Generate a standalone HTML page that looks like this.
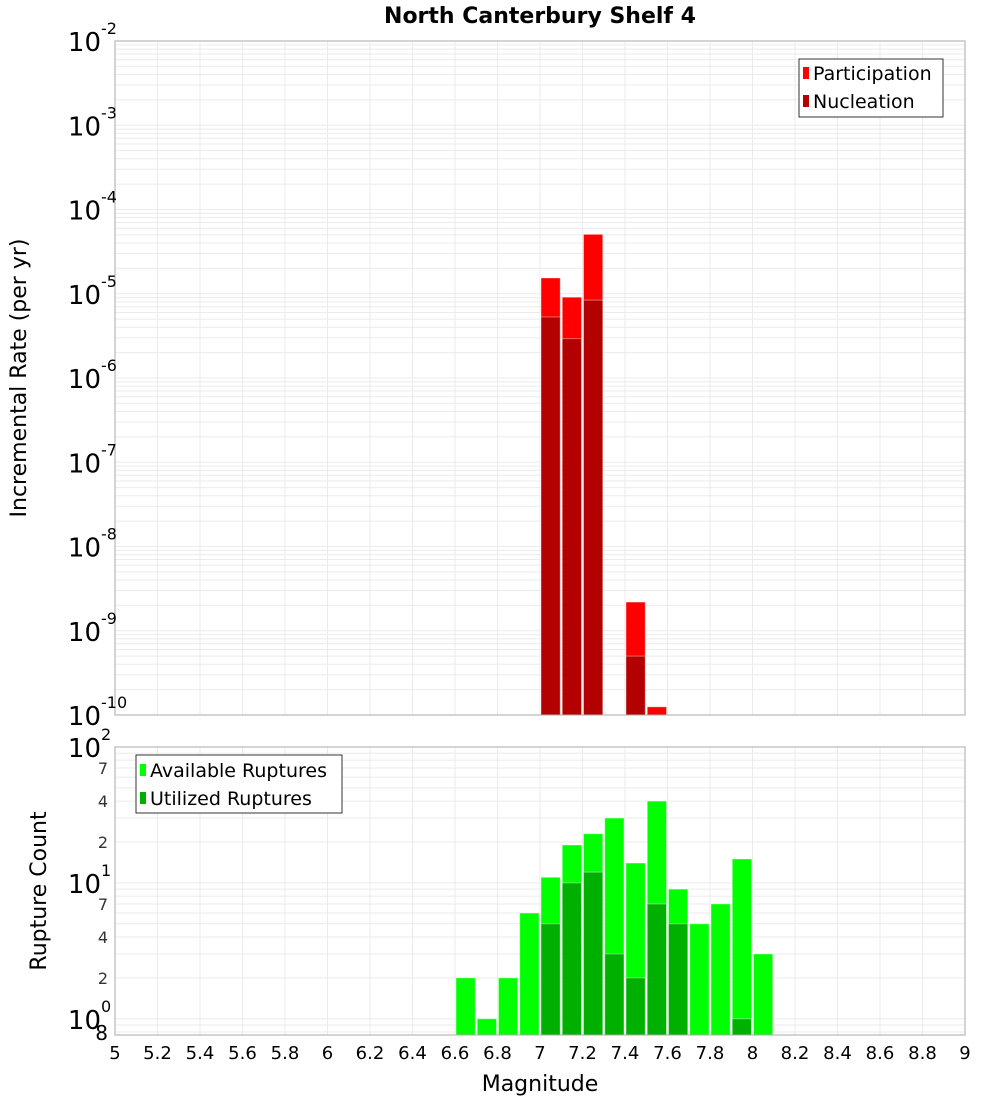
<!DOCTYPE html>
<html><head><meta charset="utf-8"><style>
body{margin:0;background:#fff;}
svg text{font-family:"DejaVu Sans","Liberation Sans",sans-serif;}
</style></head><body>
<svg id="chart" width="1000" height="1100" xmlns="http://www.w3.org/2000/svg">
<text x="540" y="23" text-anchor="middle" font-size="22" font-weight="bold">North Canterbury Shelf 4</text>
<g id="gtop"></g><g id="gbot"></g>
<text transform="translate(26,378) rotate(-90)" text-anchor="middle" font-size="22">Incremental Rate (per yr)</text>
<text transform="translate(46,891) rotate(-90)" text-anchor="middle" font-size="22">Rupture Count</text>
<text x="540" y="1091" text-anchor="middle" font-size="22">Magnitude</text>
<g id="legends">
<g>
<rect x="799" y="59" width="144" height="58" fill="#fff" stroke="#333"/>
<rect x="803" y="67" width="6" height="12" fill="#ff0000"/>
<text x="813" y="80" font-size="19">Participation</text>
<rect x="803" y="95" width="6" height="12" fill="#b30000"/>
<text x="813" y="108" font-size="19">Nucleation</text>
</g>
<g>
<rect x="136" y="755" width="206" height="58" fill="#fff" stroke="#333"/>
<rect x="140" y="764" width="6" height="12" fill="#00ff00"/>
<text x="150" y="777" font-size="19">Available Ruptures</text>
<rect x="140" y="792" width="6" height="12" fill="#00b000"/>
<text x="150" y="805" font-size="19">Utilized Ruptures</text>
</g>
</g>
</svg>
<script>
const binCenters=[6.65,6.75,6.85,6.95,7.05,7.15,7.25,7.35,7.45,7.55,7.65,7.75,7.85,7.95,8.05];
const participation=[0,0,0,0,1.54e-5,9.1e-6,5.07e-5,0,2.19e-9,1.25e-10,0,0,0,0,0];
const nucleation=[0,0,0,0,5.3e-6,2.93e-6,8.4e-6,0,5.0e-10,0,0,0,0,0,0];
const available=[2,1,2,6,11,19,23,30,14,40,9,5,7,15,3];
const utilized=[0,0,0,0,5,10,12,3,2,7,5,0,0,1,0];
const xTicks=[5,5.2,5.4,5.6,5.8,6,6.2,6.4,6.6,6.8,7,7.2,7.4,7.6,7.8,8,8.2,8.4,8.6,8.8,9];
const topExps=[-2,-3,-4,-5,-6,-7,-8,-9,-10];
const botMinor=[2,4,7,20,40,70];

const NS="http://www.w3.org/2000/svg";
const L=115,R=965;
const xs=m=>L+(m-5)/4*(R-L);
const T0=41,T1=715, yT=v=>T1-(Math.log10(v)+10)/8*(T1-T0);
const B0=747,B1=1035, bMin=Math.log10(0.76), yB=v=>B1-(Math.log10(v)-bMin)/(2-bMin)*(B1-B0);
function mk(parent,tag,attrs){const e=document.createElementNS(NS,tag);for(const k in attrs)e.setAttribute(k,attrs[k]);parent.appendChild(e);return e;}
const gTop=document.getElementById('gtop'), gBot=document.getElementById('gbot');
const svgEl=document.getElementById('chart');
function grid(g,y0,y1,hLines){
  hLines.forEach(y=>{const l=mk(g,'line',{x1:L,x2:R,y1:y,y2:y,stroke:'#ebebeb'});
    
    });
  xTicks.forEach(t=>{const l=mk(g,'line',{x1:xs(t),x2:xs(t),y1:y0,y2:y1,stroke:'#ebebeb'});
    
    });
}
const th=[];for(let e=-10;e<-2;e++)for(let k=1;k<10;k++)th.push(yT(k*Math.pow(10,e)));th.push(yT(1e-2));
grid(gTop,T0,T1,th);
const bh=[];[0.8,0.9].forEach(v=>bh.push(yB(v)));for(let e=0;e<2;e++)for(let k=1;k<10;k++)bh.push(yB(k*Math.pow(10,e)));bh.push(yB(100));
grid(gBot,B0,B1,bh);
function bar(g,c,v,base,yf,col,name){if(v<=0)return;const y=yf(v);
  const r=mk(g,'rect',{x:xs(c-0.05)+1,y:y,width:xs(c+0.05)-xs(c-0.05)-2,height:base-y,fill:col,stroke:'#ffffff','stroke-opacity':0.4});
  
  }
binCenters.forEach((c,i)=>{bar(gTop,c,participation[i],T1,yT,'#ff0000','participation-bar');bar(gTop,c,nucleation[i],T1,yT,'#b30000','nucleation-bar');
  bar(gBot,c,available[i],B1,yB,'#00ff00','available-bar');bar(gBot,c,utilized[i],B1,yB,'#00b000','utilized-bar');});
[[T0,T1],[B0,B1]].forEach(([a,b])=>{const r=mk(svgEl,'rect',{x:L,y:a,width:R-L,height:b-a,fill:'none',stroke:'#aaa'});
  
  });
svgEl.appendChild(document.getElementById('legends'));
function lab(px,py,base,exp,name){const t=mk(svgEl,'text',{x:px,y:py,'font-size':26,'text-anchor':'end'});
 
 
 t.textContent=base;
 const s=mk(svgEl,'text',{x:px,y:py-17,'font-size':16});
 
 
 s.textContent=exp;}
topExps.forEach(e=>lab(101,yT(Math.pow(10,e))+10,'10',String(e),'top-y-tick-label'));
[2,1,0].forEach(e=>lab(101,yB(Math.pow(10,e))+10,'10',String(e),'bottom-y-tick-label'));
botMinor.forEach(v=>{const t=mk(svgEl,'text',{x:108,y:yB(v)+6,'font-size':16,'text-anchor':'end',fill:'#333'});
  
  
  t.textContent=String(v>=10?v/10:v);});
{const t=mk(svgEl,'text',{x:108,y:yB(0.8)+8,'font-size':20,'text-anchor':'end'});
 
 
 t.textContent='8';}
xTicks.forEach(v=>{const t=mk(svgEl,'text',{x:xs(v),y:1059,'font-size':18,'text-anchor':'middle'});
  
  
  t.textContent=String(v);});
</script>
</body></html>
